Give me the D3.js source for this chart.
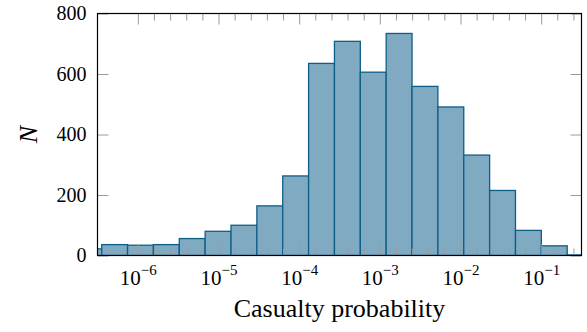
<!DOCTYPE html>
<html>
<head>
<meta charset="utf-8">
<script src="https://cdn.jsdelivr.net/npm/d3@7"></script>
<style>
  html, body { margin: 0; padding: 0; background: #fff; }
  svg { display: block; }
  svg text { font-family: "Liberation Serif"; }
</style>
</head>
<body>
<svg id="chart" width="587" height="332"></svg>
<script>
// ---- data ----
// histogram bin edges, log10 of the casualty probability
const binEdgesLog = [-6.7686, -6.448, -6.1274, -5.8068, -5.4862, -5.1656, -4.845, -4.5244,
  -4.2038, -3.8832, -3.5626, -3.242, -2.9214, -2.6008, -2.2802, -1.9596, -1.639,
  -1.3184, -0.9978, -0.6772, -0.3566];
// counts per bin
const counts = [22, 36, 34, 36, 56, 80, 100, 164, 263, 635, 708, 606, 734, 559, 491, 332, 215, 83, 32, 2];
const yTicks = [0, 200, 400, 600, 800];
const xMajorExponents = [-6, -5, -4, -3, -2, -1];
const xMinorExponents = [-5.8, -5.6, -5.4, -5.2, -4.8, -4.6, -4.4, -4.2, -3.8, -3.6, -3.4, -3.2,
  -2.8, -2.6, -2.4, -2.2, -1.8, -1.6, -1.4, -1.2, -0.8, -0.6];
const xDomainExp = [-6.5, -0.5];
const yDomain = [0, 800];
const xLabel = "Casualty probability";
const yLabel = "N";

// ---- layout ----
const L = 97.5, R = 581.5, T = 13.5, B = 255.5;
const serifFont = "Liberation Serif";
const tickColor = "#9a9a9a";
const barStroke = "#0e5e89";
const barFill = "#7faac2";

const svg = d3.select("#chart");
const x = d3.scaleLog().domain(xDomainExp.map(e => Math.pow(10, e))).range([L, R]);
const y = d3.scaleLinear().domain(yDomain).range([B, T]);

svg.append("defs").append("clipPath").attr("id", "plotclip")
  .append("rect").attr("x", L).attr("y", T - 2).attr("width", R - L).attr("height", B - T + 2);

const bins = counts.map((c, i) => ({
  x0: Math.pow(10, binEdgesLog[i]),
  x1: Math.pow(10, binEdgesLog[i + 1]),
  n: c
}));

svg.append("g").attr("clip-path", "url(#plotclip)")
  .selectAll("rect").data(bins).join("rect")
  .attr("x", d => x(d.x0))
  .attr("y", d => y(d.n))
  .attr("width", d => x(d.x1) - x(d.x0))
  .attr("height", d => y(0) - y(d.n))
  .attr("fill", barFill)
  .attr("stroke", barStroke)
  .attr("stroke-width", 1.3);

function styleAxis(g) {
  g.attr("font-family", null);
  g.select(".domain").remove();
  g.selectAll(".tick line").attr("stroke", tickColor).attr("stroke-width", 1);
}

const majorVals = xMajorExponents.map(e => Math.pow(10, e));
const minorVals = xMinorExponents.map(e => Math.pow(10, e));

// bottom major with labels
const bottom = svg.append("g").attr("transform", `translate(0,${B})`)
  .call(d3.axisBottom(x).tickValues(majorVals).tickSize(-11).tickFormat(() => ""))
  .call(styleAxis);
bottom.selectAll(".tick").each(function(d, i) {
  const t = d3.select(this).select("text");
  t.attr("y", 29.5).attr("dy", null)
    .style("font-family", serifFont).style("font-size", "21px").attr("fill", "#000")
    .attr("text-anchor", "middle").text(null);
  t.append("tspan").text("10");
  t.append("tspan").attr("dy", -10.5).style("font-size", "15px")
    .text("\u2212" + Math.abs(xMajorExponents[i]));
});
// bottom minor
svg.append("g").attr("transform", `translate(0,${B})`)
  .call(d3.axisBottom(x).tickValues(minorVals).tickSize(-7).tickFormat(() => ""))
  .call(styleAxis);
// top major/minor
svg.append("g").attr("transform", `translate(0,${T})`)
  .call(d3.axisTop(x).tickValues(majorVals).tickSize(-11).tickFormat(() => ""))
  .call(styleAxis);
svg.append("g").attr("transform", `translate(0,${T})`)
  .call(d3.axisTop(x).tickValues(minorVals).tickSize(-7).tickFormat(() => ""))
  .call(styleAxis);

// left axis with labels
const left = svg.append("g").attr("transform", `translate(${L},0)`)
  .call(d3.axisLeft(y).tickValues(yTicks).tickSize(-11).tickPadding(11))
  .call(styleAxis);
left.selectAll(".tick text")
  .style("font-family", serifFont).style("font-size", "20px").attr("fill", "#000");
// right axis
svg.append("g").attr("transform", `translate(${R},0)`)
  .call(d3.axisRight(y).tickValues(yTicks).tickSize(-11).tickFormat(() => ""))
  .call(styleAxis);

// frame
svg.append("rect").attr("x", L).attr("y", T).attr("width", R - L).attr("height", B - T)
  .attr("fill", "none").attr("stroke", "#000").attr("stroke-width", 1.2);

// axis labels
svg.append("text").attr("x", (L + R) / 2).attr("y", 317)
  .attr("text-anchor", "middle").style("font-family", serifFont).style("font-size", "26px")
  .attr("fill", "#000").text(xLabel);
svg.append("text").attr("transform", `translate(36.5,${(T + B) / 2}) rotate(-90)`)
  .attr("text-anchor", "middle").style("font-family", serifFont).style("font-size", "26px")
  .style("font-style", "italic").attr("fill", "#000").text(yLabel);
</script>
</body>
</html>
